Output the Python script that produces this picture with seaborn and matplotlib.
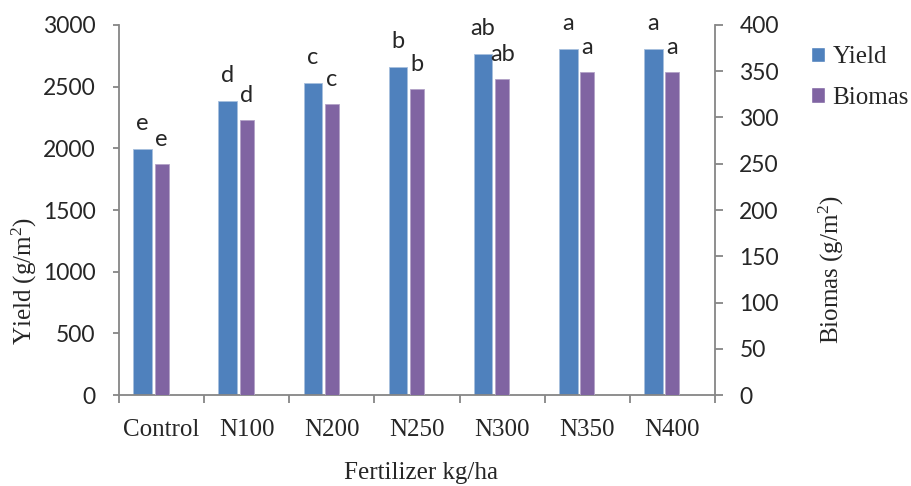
import numpy as np
import pandas as pd
import matplotlib
matplotlib.use('Agg')
import matplotlib.pyplot as plt
import seaborn as sns
from matplotlib.patches import Patch
from matplotlib.ticker import FixedLocator

# data
treatments = ['Control', 'N100', 'N200', 'N250', 'N300', 'N350', 'N400']
yield_vals = [1995, 2385, 2530, 2660, 2765, 2805, 2805]
biomas_vals = [250, 297, 315, 331, 342, 349, 349]
yield_letters = ['e', 'd', 'c', 'b', 'ab', 'a', 'a']
biomas_letters = ['e', 'd', 'c', 'b', 'ab', 'a', 'a']

yield_color = '#4F81BD'
biomas_color = '#8064A2'
axis_gray = '#868686'
serif = 'Liberation Serif'
sans = 'Lato'

df = pd.DataFrame({'treatment': treatments, 'yield': yield_vals, 'biomas': biomas_vals})

sns.set_style('white')
plt.rcParams['font.family'] = [serif, 'DejaVu Serif']
plt.rcParams['mathtext.fontset'] = 'custom'
plt.rcParams['mathtext.rm'] = serif
plt.rcParams['mathtext.it'] = serif + ':italic'

fig = plt.figure(figsize=(9.12, 4.86), dpi=100)
ax = fig.add_axes([0.1305, 0.1872, 0.6535, 0.7614])
ax2 = ax.twinx()

# yield bars (left axis), shifted left of the category centre
sns.barplot(data=df, x='treatment', y='yield', order=treatments, ax=ax,
            color=yield_color, saturation=1, width=0.218, errorbar=None,
            edgecolor='#A7BFDE', linewidth=0.6)
for p in ax.patches:
    p.set_x(p.get_x() - 0.224)

# biomas bars (right axis)
sns.barplot(data=df, x='treatment', y='biomas', order=treatments, ax=ax2,
            color=biomas_color, saturation=1, width=0.165, errorbar=None,
            edgecolor='#B3A2C7', linewidth=0.6)

ax.set_ylim(0, 3000)
ax2.set_ylim(0, 400)
ax.set_xlim(-0.5, len(treatments) - 0.5)
ax.set_yticks(np.arange(0, 3001, 500))
ax2.set_yticks(np.arange(0, 401, 50))

# significance letters
for p, lab in zip(ax.patches, yield_letters):
    ax.annotate(lab, (p.get_x() + p.get_width() / 2, p.get_height()),
                xytext=(0, 13.5), textcoords='offset points',
                ha='center', va='baseline', fontsize=17, family=sans)
for p, lab in zip(ax2.patches, biomas_letters):
    ax2.annotate(lab, (p.get_x() + p.get_width() / 2, p.get_height()),
                 xytext=(0, 13), textcoords='offset points',
                 ha='center', va='baseline', fontsize=17, family=sans)

for a in (ax, ax2):
    a.set_xlabel('')
    a.set_ylabel('')
    for s in a.spines.values():
        s.set_color(axis_gray)
        s.set_linewidth(1.3)
    a.spines['top'].set_visible(False)

ax.spines['right'].set_visible(False)
ax2.spines['left'].set_visible(False)
ax2.spines['bottom'].set_visible(False)

# category ticks between groups
ax.xaxis.set_major_locator(FixedLocator(range(len(treatments))))
ax.set_xticklabels(treatments)
ax.xaxis.set_minor_locator(FixedLocator(np.arange(-0.5, len(treatments), 1.0)))
ax.tick_params(axis='x', which='major', length=0, pad=17, labelsize=18)
ax.tick_params(axis='x', which='minor', bottom=True, length=5.5, width=1.3, color=axis_gray)

ax.tick_params(axis='y', left=True, length=4.5, width=1.3, color=axis_gray, pad=12.5, labelsize=16.5)
ax2.tick_params(axis='y', right=True, length=5.5, width=1.3, color=axis_gray, pad=12, labelsize=16.5)
for lab in ax.get_yticklabels() + ax2.get_yticklabels():
    lab.set_fontfamily(sans)

# axis titles
fig.text(421 / 912, 1 - 479 / 486, 'Fertilizer kg/ha', ha='center', va='baseline', fontsize=18)
fig.text(24 / 912, 1 - 281 / 486, 'Yield (g/m$^{2}$)', rotation=90, ha='center', va='center', fontsize=18)
fig.text(831 / 912, 1 - 270 / 486, 'Biomas (g/m$^{2}$)', rotation=90, ha='center', va='center', fontsize=18)

handles = [Patch(facecolor=yield_color, label='Yield'), Patch(facecolor=biomas_color, label='Biomas')]
fig.legend(handles=handles, loc='upper left', bbox_to_anchor=(0.889, 0.905), frameon=False,
           fontsize=18, handlelength=0.56, handleheight=0.56, handletextpad=0.3,
           labelspacing=0.75, borderpad=0, borderaxespad=0)

fig.savefig('out.png', dpi=100)
